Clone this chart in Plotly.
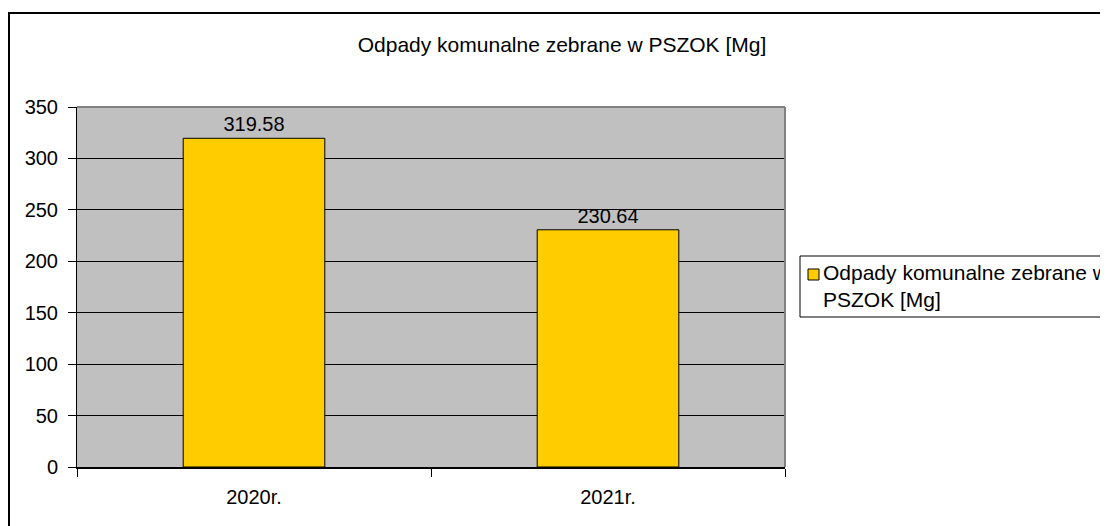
import plotly.graph_objects as go

categories = ["2020r.", "2021r."]
values = [319.58, 230.64]
value_labels = ["319.58", "230.64"]
series_name = "Odpady komunalne zebrane w<br>PSZOK [Mg]"
title_text = "Odpady komunalne zebrane w PSZOK [Mg]"
y_ticks = [0, 50, 100, 150, 200, 250, 300, 350]
bar_color = "#FFCC00"

FONT = "Liberation Sans, Arial, sans-serif"
OFF = 8  # browser body margin offset

# reference plot area in screenshot pixels
PL, PR, PT, PB = 77, 785, 107, 467
W, H = 1108, 526
pw, ph = PR - PL, PB - PT


def px(x):
    return (x - PL) / pw


def py(y):
    return (PB - y) / ph


fig = go.Figure()
fig.add_trace(go.Bar(
    x=categories, y=values, name=series_name,
    text=value_labels, textposition="outside", cliponaxis=False,
    textfont=dict(size=20, color="black", family=FONT),
    marker=dict(color=bar_color, line=dict(color="black", width=1)),
    width=0.4, showlegend=False,
))

fig.update_layout(
    width=W, height=H,
    paper_bgcolor="white", plot_bgcolor="#C0C0C0",
    margin=dict(l=PL - OFF, r=W - (PR - OFF), t=PT - OFF, b=H - (PB - OFF), autoexpand=False),
    font=dict(family=FONT, size=20, color="black"),
    title=dict(text=title_text, x=(562 - OFF) / W, xanchor="center", y=1 - (45 - OFF) / H,
               yanchor="middle", font=dict(size=21, color="black", family=FONT)),
    showlegend=False,
    bargap=0.6,
)
fig.update_xaxes(
    type="category", range=[-0.5, 1.5], showgrid=False,
    showline=True, linecolor="black", linewidth=2,
    ticks="outside", tickson="boundaries", ticklen=8, tickcolor="black", tickwidth=1,
    ticklabelstandoff=11, tickfont=dict(size=20, color="black", family=FONT),
)
fig.update_yaxes(
    range=[0, 350], tickvals=y_ticks, showgrid=True, gridcolor="black", gridwidth=1,
    showline=True, linecolor="black", linewidth=1, zeroline=False,
    ticks="outside", ticklen=8, tickcolor="black", ticklabelstandoff=6,
    tickfont=dict(size=20, color="black", family=FONT),
)
# plot area top/right border (gray)
fig.add_shape(type="line", xref="paper", yref="paper", x0=0, x1=1, y0=1, y1=1,
              line=dict(color="#808080", width=2))
fig.add_shape(type="line", xref="paper", yref="paper", x0=1, x1=1, y0=0, y1=1,
              line=dict(color="#808080", width=2))
# outer chart border
fig.add_shape(type="rect", xref="paper", yref="paper",
              x0=px(OFF + 1), x1=2.0, y0=-1.0, y1=py(13),
              line=dict(color="black", width=2), layer="below")
# legend (box, symbol, text)
fig.add_shape(type="rect", xref="paper", yref="paper",
              x0=px(800), x1=2.0, y0=py(317), y1=py(256),
              line=dict(color="black", width=1), fillcolor="white", layer="below")
fig.add_shape(type="rect", xref="paper", yref="paper",
              x0=px(808), x1=px(819), y0=py(280), y1=py(269),
              line=dict(color="black", width=1), fillcolor=bar_color)
fig.add_annotation(xref="paper", yref="paper", x=px(821), y=py(286),
                   xanchor="left", yanchor="middle", align="left", showarrow=False,
                   text=series_name, font=dict(size=21, color="black", family=FONT))

fig.write_html("out.html")
